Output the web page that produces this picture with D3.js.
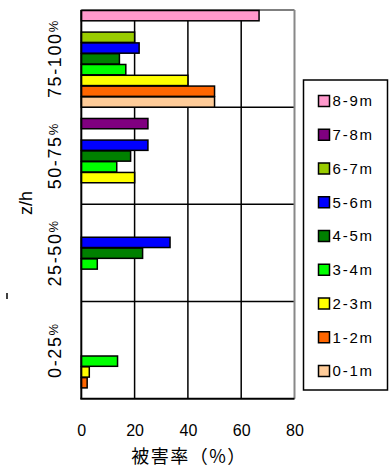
<!DOCTYPE html>
<html><head><meta charset="utf-8">
<script src="https://cdn.jsdelivr.net/npm/d3@7/dist/d3.min.js"></script>
<style>body{margin:0;background:#fff}svg{display:block}</style>
</head><body><svg id="c" width="390" height="468"></svg>
<script>
const categories = ["0-25%", "25-50%", "50-75%", "75-100%"];
const seriesNames = ["0-1m", "1-2m", "2-3m", "3-4m", "4-5m", "5-6m", "6-7m", "7-8m", "8-9m"];
const v0_1 = [0, 0, 0, 50];
const v1_2 = [2.2, 0, 0, 50];
const v2_3 = [3, 0, 20, 40];
const v3_4 = [13.6, 6, 13.3, 16.7];
const v4_5 = [0, 23, 18.5, 14.3];
const v5_6 = [0, 33.3, 25, 21.7];
const v6_7 = [0, 0, 0, 20];
const v7_8 = [0, 0, 25, 0];
const v8_9 = [0, 0, 0, 66.7];
const seriesValues = [v0_1, v1_2, v2_3, v3_4, v4_5, v5_6, v6_7, v7_8, v8_9];
const colors = ["#ffcc99", "#ff6600", "#ffff00", "#00ff00", "#008000", "#0000ff", "#99cc00", "#800080", "#ff99cc"];
const xTicks = [0, 20, 40, 60, 80];

const svg = d3.select("#c");
const L = 81.3, R = 294.5, T = 10, B = 398.7;
const x = d3.scaleLinear().domain([0, 80]).range([L, R]);
const y = d3.scaleBand().domain(categories.slice().reverse()).range([T, B]).padding(0);
const yi = d3.scaleBand().domain(seriesNames.slice().reverse()).range([0, y.bandwidth()]).padding(0);

// vertical gridlines
svg.append("g").selectAll("line").data(xTicks.filter(d => d > 0 && d < 80)).join("line")
  .attr("x1", d => x(d)).attr("x2", d => x(d)).attr("y1", T).attr("y2", B)
  .attr("stroke", "#000").attr("stroke-width", 1.5);
// category dividers
svg.append("g").selectAll("line").data(categories.slice(1)).join("line")
  .attr("x1", L).attr("x2", R).attr("y1", d => y(d) + y.bandwidth()).attr("y2", d => y(d) + y.bandwidth())
  .attr("stroke", "#000").attr("stroke-width", 1.5);
// borders top/right
svg.append("line").attr("x1", L).attr("x2", R).attr("y1", T).attr("y2", T).attr("stroke", "#555").attr("stroke-width", 1.5);
svg.append("line").attr("x1", R).attr("x2", R).attr("y1", T).attr("y2", B).attr("stroke", "#888").attr("stroke-width", 2);

// bars
const bars = [];
seriesNames.forEach((s, si) => categories.forEach((c, ci) => {
  if (seriesValues[si][ci] > 0) bars.push({s, c, v: seriesValues[si][ci], color: colors[si]});
}));
svg.append("g").selectAll("rect").data(bars).join("rect")
  .attr("x", x(0)).attr("y", d => y(d.c) + yi(d.s) + 0.5)
  .attr("width", d => x(d.v) - x(0)).attr("height", yi.bandwidth() - 0.5)
  .attr("fill", d => d.color).attr("stroke", "#000").attr("stroke-width", 1.5);

// axes lines
svg.append("line").attr("x1", L).attr("x2", L).attr("y1", T).attr("y2", B).attr("stroke", "#000").attr("stroke-width", 2);
svg.append("line").attr("x1", L - 1).attr("x2", R).attr("y1", B).attr("y2", B).attr("stroke", "#000").attr("stroke-width", 2);

// x tick labels
const xAxis = d3.axisBottom(x).tickValues(xTicks).tickSize(0).tickPadding(0);
const gx = svg.append("g").attr("transform", `translate(0,${B + 26})`).call(xAxis);
gx.select(".domain").remove();
gx.selectAll("text").attr("font-family", "Liberation Sans, Arial, sans-serif").attr("font-size", 16).attr("fill", "#000").attr("dy", "0.7em");

// y category labels (rotated)
const gy = svg.append("g");
categories.forEach(c => {
  const cy = y(c) + y.bandwidth() / 2;
  const m = c.match(/^(.*)%$/);
  const t = gy.append("text").attr("transform", `translate(60.5,${cy}) rotate(-90)`)
    .attr("text-anchor", "middle").attr("font-family", "Liberation Sans, Arial, sans-serif")
    .attr("font-size", 18).attr("letter-spacing", 1.6).attr("fill", "#000");
  t.append("tspan").text(m[1]);
  t.append("tspan").attr("font-size", 13).attr("dy", -3).text("%");
});
svg.append("text").attr("transform", `translate(32,203) rotate(-90)`).attr("text-anchor", "middle")
  .attr("font-family", "Liberation Sans, Arial, sans-serif").attr("font-size", 18).attr("fill", "#000").text("z/h");
svg.append("line").attr("x1", 7).attr("x2", 7).attr("y1", 293).attr("y2", 299).attr("stroke", "#000").attr("stroke-width", 1.5);

// x title
svg.append("text").attr("x", 189).attr("y", 463).attr("text-anchor", "middle")
  .attr("font-family", "Noto Sans CJK JP, sans-serif").attr("font-size", 18).attr("letter-spacing", 1.5).attr("fill", "#000").text("被害率（%）");

// legend
svg.append("rect").attr("x", 303.5).attr("y", 80).attr("width", 84).attr("height", 310)
  .attr("fill", "#fff").attr("stroke", "#000").attr("stroke-width", 1.5);
const ly = d3.scalePoint().domain(seriesNames.slice().reverse()).range([101, 371]);
const lg = svg.append("g").selectAll("g").data(seriesNames.slice().reverse()).join("g")
  .attr("transform", d => `translate(318.5,${ly(d)})`);
lg.append("rect").attr("x", 0).attr("y", -5.5).attr("width", 11).attr("height", 11)
  .attr("fill", d => colors[seriesNames.indexOf(d)]).attr("stroke", "#000").attr("stroke-width", 1.5);
lg.append("text").attr("x", 14).attr("y", 0).attr("dy", "0.36em").attr("font-family", "Liberation Sans, Arial, sans-serif")
  .attr("font-size", 15).attr("letter-spacing", 1.8).attr("fill", "#000").text(d => d);
</script></body></html>
